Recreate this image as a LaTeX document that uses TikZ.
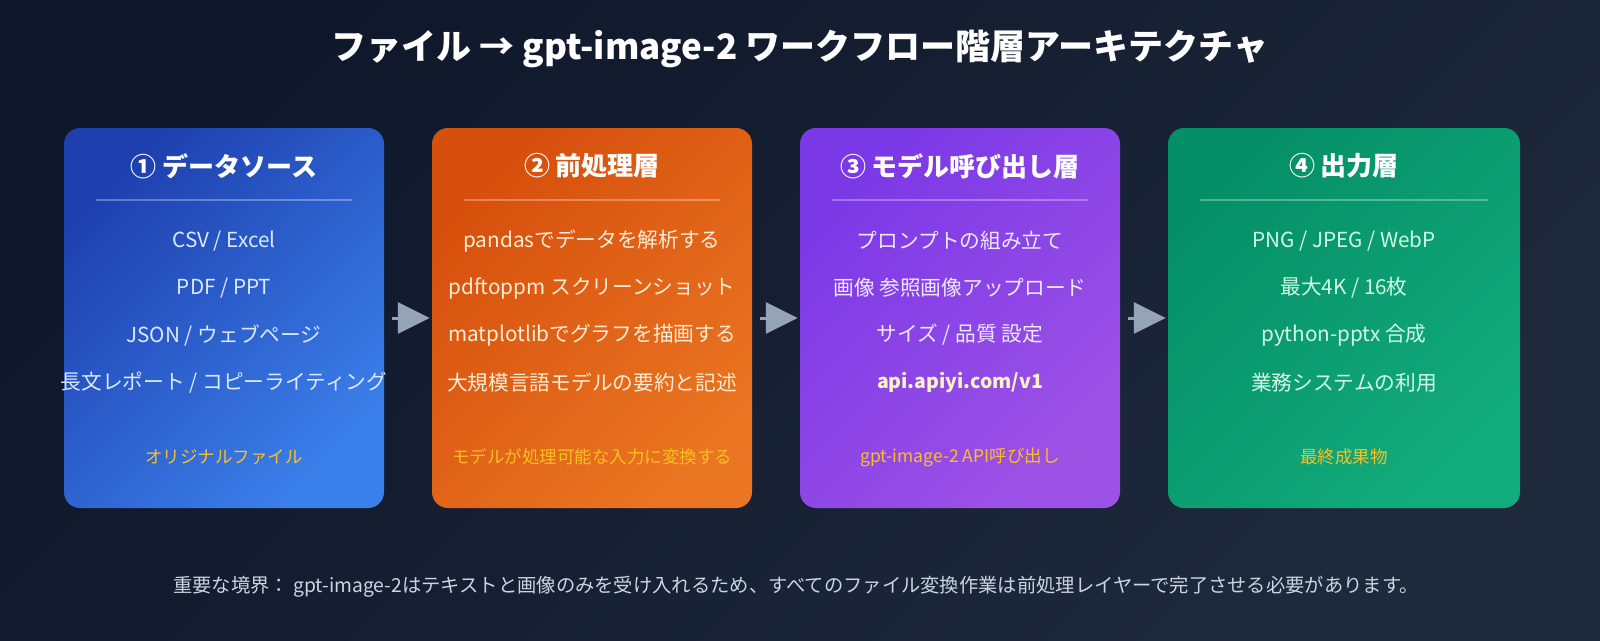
\documentclass[tikz,border=0pt]{standalone}
\usepackage{fontspec}
\setmainfont{Noto Sans CJK JP}
\usetikzlibrary{arrows.meta}
\definecolor{bgA}{HTML}{0F172A}
\definecolor{bgB}{HTML}{1E293B}
\definecolor{srcA}{HTML}{1E40AF}
\definecolor{srcB}{HTML}{3B7FEA}
\definecolor{preA}{HTML}{D64F0C}
\definecolor{preB}{HTML}{EA7522}
\definecolor{modA}{HTML}{7B38E6}
\definecolor{modB}{HTML}{9D52E6}
\definecolor{outA}{HTML}{058F66}
\definecolor{outB}{HTML}{12AB7C}
\definecolor{srcTxt}{HTML}{DBEAFE}
\definecolor{preTxt}{HTML}{FFEDD5}
\definecolor{modTxt}{HTML}{EDE9FE}
\definecolor{outTxt}{HTML}{D1FAE5}
\definecolor{tagTxt}{HTML}{FBBF24}
\definecolor{apiTxt}{HTML}{FEF3C7}
\definecolor{noteTxt}{HTML}{CBD5E1}
\definecolor{flowCol}{HTML}{94A3B8}
\begin{document}
\begin{tikzpicture}[x=1pt,y=-1pt,
    box/.style={rectangle, rounded corners=16pt, minimum width=320pt, minimum height=380pt, inner sep=0pt},
    grad/.style 2 args={top color=#1, bottom color=#2, shading angle=45},
    head/.style={text=white, font=\bfseries\fontsize{26}{30}\selectfont},
    item/.style={font=\fontsize{20.7}{24}\selectfont},
    tag/.style={text=tagTxt, font=\fontsize{17.5}{20}\selectfont},
    rule/.style={draw=white, draw opacity=0.3, line width=2pt},
    flow/.style={draw=flowCol, line width=3pt, -{Triangle[length=32pt,width=31pt]}, shorten <=8pt, shorten >=2pt}]
  \useasboundingbox (0,0) rectangle (1600,640);
  \shade[grad={bgA}{bgB}] (0,0) rectangle (1600,640);
  \node[text=white, font=\bfseries\fontsize{35}{40}\selectfont] (T) at (800,49) {ファイル → gpt-image-2 ワークフロー階層アーキテクチャ};
  \node[box, grad={srcA}{srcB}] (L1) at (224,318) {};
  \node[box, grad={preA}{preB}] (L2) at (592,318) {};
  \node[box, grad={modA}{modB}] (L3) at (960,318) {};
  \node[box, grad={outA}{outB}, minimum width=352pt] (L4) at (1344,318) {};
  \draw[flow] (L1.east) -- (L2.west);
  \draw[flow] (L2.east) -- (L3.west);
  \draw[flow] (L3.east) -- (L4.west);
  \node[head] (H1) at (224,166) {① データソース};
  \draw[rule] (96,200) -- (352,200);
  \node[item, text=srcTxt] (A1) at (224,241) {CSV / Excel};
  \node[item, text=srcTxt] (A2) at (224,288) {PDF / PPT};
  \node[item, text=srcTxt] (A3) at (224,335) {JSON / ウェブページ};
  \node[item, text=srcTxt] (A4) at (224,383) {長文レポート / コピーライティング};
  \node[tag] (S1) at (224,457) {オリジナルファイル};
  \node[head] (H2) at (592,166) {② 前処理層};
  \draw[rule] (464,200) -- (720,200);
  \node[item, text=preTxt] (B1) at (592,241) {pandasでデータを解析する};
  \node[item, text=preTxt] (B2) at (592,288) {pdftoppm スクリーンショット};
  \node[item, text=preTxt] (B3) at (592,335) {matplotlibでグラフを描画する};
  \node[item, text=preTxt] (B4) at (592,383) {大規模言語モデルの要約と記述};
  \node[tag] (S2) at (592,457) {モデルが処理可能な入力に変換する};
  \node[head] (H3) at (960,166) {③ モデル呼び出し層};
  \draw[rule] (832,200) -- (1088,200);
  \node[item, text=modTxt] (C1) at (960,241) {プロンプトの組み立て};
  \node[item, text=modTxt] (C2) at (960,288) {画像 参照画像アップロード};
  \node[item, text=modTxt] (C3) at (960,335) {サイズ / 品質 設定};
  \node[item, text=apiTxt, font=\bfseries\fontsize{19.5}{24}\selectfont] (C4) at (960,383) {api.apiyi.com/v1};
  \node[tag] (S3) at (960,457) {gpt-image-2 API呼び出し};
  \node[head] (H4) at (1344,166) {④ 出力層};
  \draw[rule] (1200,200) -- (1488,200);
  \node[item, text=outTxt] (D1) at (1344,241) {PNG / JPEG / WebP};
  \node[item, text=outTxt] (D2) at (1344,288) {最大4K / 16枚};
  \node[item, text=outTxt] (D3) at (1344,335) {python-pptx 合成};
  \node[item, text=outTxt] (D4) at (1344,383) {業務システムの利用};
  \node[tag] (S4) at (1344,457) {最終成果物};
  \node[text=noteTxt, font=\fontsize{19.3}{23}\selectfont] (N) at (796,587) {重要な境界： gpt-image-2はテキストと画像のみを受け入れるため、すべてのファイル変換作業は前処理レイヤーで完了させる必要があります。};
\end{tikzpicture}
\end{document}
